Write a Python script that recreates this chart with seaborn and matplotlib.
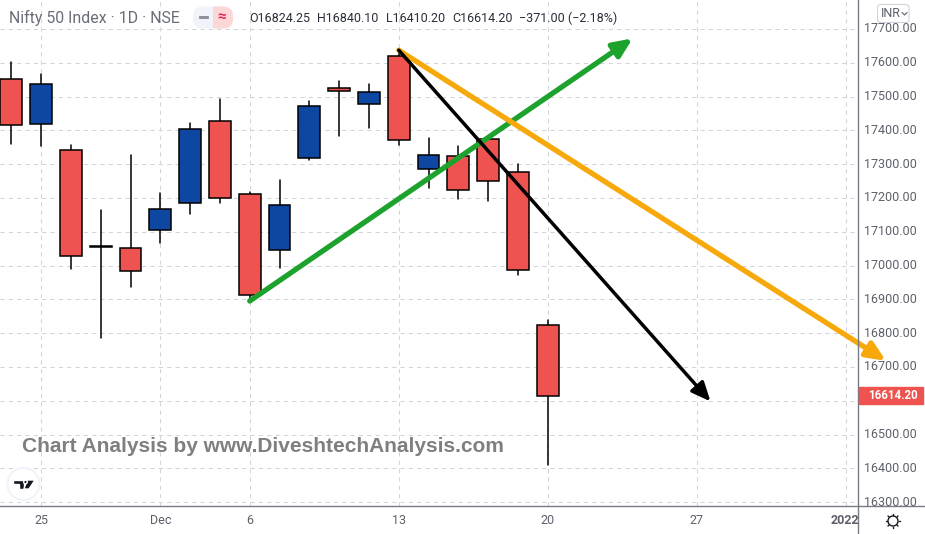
import matplotlib
matplotlib.use("Agg")
import matplotlib.pyplot as plt
from matplotlib.patches import Circle, FancyBboxPatch, Rectangle, Polygon
import pandas as pd
import seaborn as sns

# candles
opens = [17551, 17418, 17342, 17058, 17053, 17106, 17185, 17427, 17212, 17047,
         17318, 17524, 17477, 17619, 17286, 17324, 17374, 17277, 16824.25]
closes = [17415, 17536, 17029, 17056, 16985, 17168, 17404, 17200, 16914, 17179,
          17471, 17517, 17513, 17371, 17327, 17224, 17250, 16988, 16614.20]
highs = [17602, 17567, 17357, 17163, 17328, 17215, 17422, 17492, 17218, 17253,
         17487, 17546, 17537, 17640, 17378, 17354, 17376, 17301, 16840.10]
lows = [17358, 17355, 16989, 16786, 16936, 17068, 17152, 17184, 16895, 16992,
        17311, 17382, 17407, 17357, 17228, 17196, 17190, 16972, 16410.20]

# trend arrows: (bar, price) start and tip
green_arrow = [(8.0, 16895), (20.85, 17672)]
black_arrow = [(13.0, 17637), (23.46, 16598)]
orange_arrow = [(13.0, 17637), (29.35, 16718)]

price_ticks = list(range(16300, 17800, 100))
date_ticks = [1, 5, 8, 13, 18, 23, 28]
date_labels = ["25", "Dec", "6", "13", "20", "27", "2022"]

RED = "#ef5350"
BLUE = "#0d47a1"
GRID = "#d1d4dc"
AXIS = "#787b86"
LABEL = "#5d606b"
W, H = 925, 534

sns.set_theme(style="white", rc={"font.family": ["Roboto", "DejaVu Sans"]})

fig = plt.figure(figsize=(W / 100, H / 100), dpi=100, facecolor="white")
ax = fig.add_axes([0, 1 - 506 / H, 858.3 / W, 506 / H])


def px(x, y):
    return x / W, 1 - y / H


# Wicks
bars = list(range(len(opens)))
wicks = pd.DataFrame({
    "bar": bars * 2,
    "price": lows + highs,
})
sns.lineplot(data=wicks, x="bar", y="price", units="bar", estimator=None,
             color="black", linewidth=1.1, ax=ax, zorder=3, legend=False)

# Bodies
bodies = pd.DataFrame({
    "bar": bars,
    "height": [abs(o - c) for o, c in zip(opens, closes)],
    "bottom": [min(o, c) for o, c in zip(opens, closes)],
    "color": [BLUE if c > o else RED for o, c in zip(opens, closes)],
})
ax.bar(bodies["bar"], bodies["height"], bottom=bodies["bottom"], width=0.73,
       color=bodies["color"], edgecolor="black", linewidth=1.1, zorder=4)

ax.set_xlim(-0.379, 28.42)
ax.set_ylim(16288.5, 17785.5)
ax.set_xticks(date_ticks)
ax.set_yticks(price_ticks)
ax.set_xticklabels([])
ax.set_yticklabels([])
ax.set_xlabel("")
ax.set_ylabel("")
ax.tick_params(length=0)
ax.grid(True, color=GRID, linestyle=(0, (4, 4)), linewidth=0.75)
ax.set_axisbelow(True)
for side in ["top", "left", "right"]:
    ax.spines[side].set_visible(False)
ax.spines["bottom"].set_color(AXIS)
ax.spines["bottom"].set_linewidth(1)

# Arrows
for pts, col, lw in [(green_arrow, "#1ea22e", 3.8), (orange_arrow, "#f7a90c", 3.8),
                     (black_arrow, "black", 2.5)]:
    ax.annotate("", xy=pts[1], xytext=pts[0], annotation_clip=False, zorder=6,
                arrowprops=dict(arrowstyle="-|>,head_length=0.95,head_width=0.42",
                                color=col, lw=lw, shrinkA=0, shrinkB=0))

# Axis frame
fig.add_artist(plt.Line2D([858.3 / W] * 2, [0, 1], color=AXIS, lw=1))
fig.add_artist(plt.Line2D([858.3 / W, 1], [1 - 506 / H] * 2, color=AXIS, lw=1))

# Price labels
for p in price_ticks:
    x, y = ax.transData.transform((0, p))
    fig.text(917 / W, y / H, f"{p}.00", ha="right", va="center",
             color=LABEL, fontsize=9)

# Date labels
for t, lab in zip(date_ticks, date_labels):
    x, _ = ax.transData.transform((t, 0))
    fig.text(min(x, 845) / W, 1 - 520 / H, lab, ha="center", va="center",
             color=LABEL, fontsize=9, fontweight="bold" if lab == "2022" else "normal")

# Last price tag
fig.add_artist(Rectangle(px(858.5, 404), 64.5 / W, 17 / H, transform=fig.transFigure,
                         color=RED, zorder=5))
fig.text(*px(893, 395.5), "16614.20", ha="center", va="center", color="white",
         fontsize=8.3, fontweight="bold", zorder=6)

# Header
fig.text(*px(9, 17.5), "Nifty 50 Index · 1D · NSE", ha="left", va="center",
         color="#6a6d78", fontsize=11.4)
ohlc = [(249, "O16824.25"), (317.5, "H16840.10"), (386, "L16410.20"), (452, "C16614.20"),
        (519, "−371.00 (−2.18%)")]
for x, s in ohlc:
    fig.text(*px(x, 18), s, ha="left", va="center", color="#2a2e39", fontsize=9)

# Overlay in picture pixels for the chart's furniture
overlay = fig.add_axes([0, 0, 1, 1], facecolor="none", xlim=(0, W), ylim=(H, 0), zorder=9)
overlay.axis("off")

# Status pill
overlay.add_patch(FancyBboxPatch((193, 6.5), 40, 22, boxstyle="round,pad=0,rounding_size=10",
                                 fc="#f0f3fa", ec="none"))
pink = FancyBboxPatch((193, 6.5), 40, 22, boxstyle="round,pad=0,rounding_size=10",
                      fc="#fcd7d5", ec="none")
overlay.add_patch(pink)
pink.set_clip_path(Rectangle((213, 0), 30, 40, transform=overlay.transData))
overlay.add_patch(FancyBboxPatch((199, 16), 10, 3, boxstyle="round,pad=0,rounding_size=1",
                                 fc="#8d9099", ec="none"))
overlay.text(222, 17, "≈", ha="center", va="center", color="#e91e63", fontsize=11,
             fontweight="bold")

# Currency button
overlay.add_patch(FancyBboxPatch((877.5, 4.5), 31.5, 18, boxstyle="round,pad=0,rounding_size=3",
                                 fc="white", ec=GRID, lw=0.8))
overlay.text(881, 13.5, "INR", ha="left", va="center", color=LABEL, fontsize=9)
overlay.plot([902, 904.5, 907], [12.5, 15, 12.5], color=LABEL, lw=0.8)

# Watermark
overlay.text(22, 447, "Chart Analysis by www.DiveshtechAnalysis.com", ha="left",
             va="center", color="#7f7f7f", fontsize=15, fontweight="bold",
             family="Liberation Sans")

# TradingView badge
overlay.add_patch(Circle((23.5, 484), 16, fc="white", ec="#f0f3fa", lw=1.5))
overlay.add_patch(Polygon([(13, 480), (24, 480), (24, 489), (19, 489), (19, 484), (13, 484)],
                          fc="#131722"))
overlay.add_patch(Polygon([(27, 480), (35, 480), (29, 489), (24, 489)], fc="#131722"))
overlay.add_patch(Circle((25.5, 482), 1.8, fc="#131722"))

# Settings icon
overlay.add_patch(Circle((893, 521), 5, fc="white", ec="#131722", lw=1))
for dx, dy in [(0, -7), (0, 7), (-7, 0), (7, 0), (-5, -5), (5, 5), (-5, 5), (5, -5)]:
    overlay.plot([893 + dx * 0.85, 893 + dx], [521 + dy * 0.85, 521 + dy], color="#131722", lw=1)

fig.savefig("out.png", dpi=100)
